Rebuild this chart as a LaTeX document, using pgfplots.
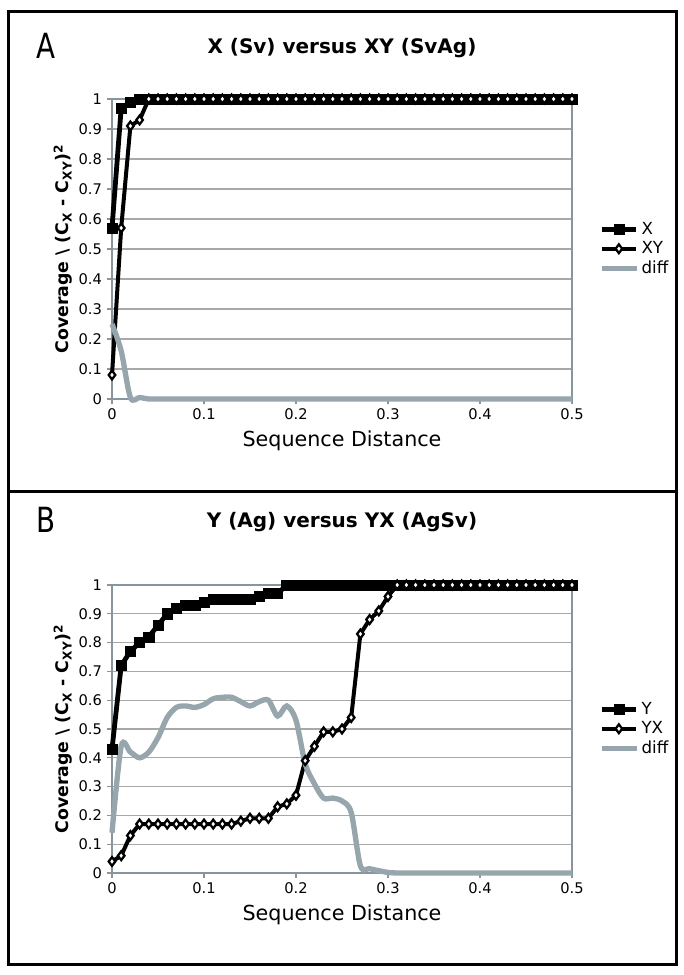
\documentclass[border=0pt]{standalone}
\usepackage{fontspec}
\setmainfont{DejaVu Sans}
\usepackage{graphicx}
\usepackage{pgfplots}
\usepackage{pgfplotstable}
\pgfplotsset{compat=1.18}
\definecolor{diffc}{RGB}{150,166,172}
\definecolor{axc}{RGB}{135,150,156}
\definecolor{gridc}{RGB}{168,168,168}

\pgfplotstableread{
x X XY diff
0.00 0.57 0.08 0.25
0.01 0.97 0.57 0.16
0.02 0.99 0.91 0.005
0.03 1 0.93 0.005
0.04 1 1 0
0.05 1 1 0
0.06 1 1 0
0.07 1 1 0
0.08 1 1 0
0.09 1 1 0
0.10 1 1 0
0.11 1 1 0
0.12 1 1 0
0.13 1 1 0
0.14 1 1 0
0.15 1 1 0
0.16 1 1 0
0.17 1 1 0
0.18 1 1 0
0.19 1 1 0
0.20 1 1 0
0.21 1 1 0
0.22 1 1 0
0.23 1 1 0
0.24 1 1 0
0.25 1 1 0
0.26 1 1 0
0.27 1 1 0
0.28 1 1 0
0.29 1 1 0
0.30 1 1 0
0.31 1 1 0
0.32 1 1 0
0.33 1 1 0
0.34 1 1 0
0.35 1 1 0
0.36 1 1 0
0.37 1 1 0
0.38 1 1 0
0.39 1 1 0
0.40 1 1 0
0.41 1 1 0
0.42 1 1 0
0.43 1 1 0
0.44 1 1 0
0.45 1 1 0
0.46 1 1 0
0.47 1 1 0
0.48 1 1 0
0.49 1 1 0
0.50 1 1 0
}\tableA

\pgfplotstableread{
x Y YX diff
0.00 0.43 0.04 0.14
0.01 0.72 0.06 0.44
0.02 0.77 0.13 0.42
0.03 0.80 0.17 0.40
0.04 0.82 0.17 0.42
0.05 0.86 0.17 0.47
0.06 0.90 0.17 0.54
0.07 0.92 0.17 0.575
0.08 0.93 0.17 0.58
0.09 0.93 0.17 0.575
0.10 0.94 0.17 0.585
0.11 0.95 0.17 0.605
0.12 0.95 0.17 0.61
0.13 0.95 0.17 0.61
0.14 0.95 0.18 0.595
0.15 0.95 0.19 0.58
0.16 0.96 0.19 0.595
0.17 0.97 0.19 0.60
0.18 0.97 0.23 0.545
0.19 1 0.24 0.58
0.20 1 0.27 0.53
0.21 1 0.39 0.38
0.22 1 0.44 0.31
0.23 1 0.49 0.26
0.24 1 0.49 0.26
0.25 1 0.50 0.25
0.26 1 0.54 0.21
0.27 1 0.83 0.025
0.28 1 0.88 0.015
0.29 1 0.91 0.008
0.30 1 0.96 0.002
0.31 1 1 0
0.32 1 1 0
0.33 1 1 0
0.34 1 1 0
0.35 1 1 0
0.36 1 1 0
0.37 1 1 0
0.38 1 1 0
0.39 1 1 0
0.40 1 1 0
0.41 1 1 0
0.42 1 1 0
0.43 1 1 0
0.44 1 1 0
0.45 1 1 0
0.46 1 1 0
0.47 1 1 0
0.48 1 1 0
0.49 1 1 0
0.50 1 1 0
}\tableB

\pgfplotsset{
  excel/.style={
    scale only axis, width=345pt,
    xmin=0, xmax=0.5, ymin=0, ymax=1,
    clip=false,
    xtick={0,0.1,0.2,0.3,0.4,0.5},
    xticklabels={0,0.1,0.2,0.3,0.4,0.5},
    ytick={0,0.1,0.2,0.3,0.4,0.5,0.6,0.7,0.8,0.9,1},
    yticklabels={0,0.1,0.2,0.3,0.4,0.5,0.6,0.7,0.8,0.9,1},
    xtick pos=bottom, ytick pos=left,
    tick align=outside, major tick length=4pt,
    tick style={axc, line width=1pt},
    axis line style={axc, line width=1.4pt},
    ymajorgrids, grid style={gridc, line width=0.8pt},
    ticklabel style={font=\fontsize{11}{13}\selectfont},
    xlabel={Sequence Distance},
    xlabel style={font=\fontsize{15.5}{18}\selectfont, yshift=-1pt},
    ylabel={\bfseries Coverage \textbackslash\ (C\textsubscript{X} - C\textsubscript{XY})\textsuperscript{2}},
    ylabel style={font=\fontsize{13}{15}\selectfont, yshift=-2pt},
    legend style={at={(1.055,0.5)}, anchor=west, draw=none, fill=none,
      font=\fontsize{12.5}{14}\selectfont, row sep=0pt, inner sep=1pt},
    legend cell align=left,
    legend image code/.code={\draw[mark repeat=2,mark phase=2] plot coordinates {(0pt,0pt)(13pt,0pt)(26pt,0pt)};},
  },
  sqline/.style={black, line width=3.6pt, mark=square*, mark size=3.8pt, mark options={solid, fill=black, line width=0.4pt}},
  dmline/.style={black, line width=3pt, mark=diamond*, mark size=3.3pt, mark options={solid, fill=white, draw=black, line width=1.7pt}},
  dfline/.style={diffc, line width=4pt, smooth, tension=0.5},
}

\begin{document}
\begin{tikzpicture}
\useasboundingbox (0,0) rectangle (513pt,731.25pt);
\draw[line width=2.25pt] (6pt,7.5pt) rectangle (507pt,722.25pt);
\draw[line width=2.25pt] (6pt,362.25pt) -- (507pt,362.25pt);
\node[font=\fontsize{26}{28}\selectfont] at (34.5pt,697pt) {\scalebox{0.8}[1]{A}};
\node[font=\bfseries\fontsize{15}{17}\selectfont] at (256.5pt,695.5pt) {X (Sv) versus XY (SvAg)};
\node[font=\fontsize{26}{28}\selectfont] at (34.5pt,341pt) {\scalebox{0.8}[1]{B}};
\node[font=\bfseries\fontsize{15}{17}\selectfont] at (256.5pt,339.75pt) {Y (Ag) versus YX (AgSv)};

\begin{axis}[excel, height=225pt, at={(84pt,432pt)}, anchor=south west]
\addplot[sqline] table[x=x,y=X] {\tableA};
\addlegendentry{X}
\addplot[dmline] table[x=x,y=XY] {\tableA};
\addlegendentry{XY}
\addplot[dfline] table[x=x,y=diff] {\tableA};
\addlegendentry{diff}
\end{axis}

\begin{axis}[excel, height=216pt, at={(84pt,76.5pt)}, anchor=south west]
\addplot[sqline] table[x=x,y=Y] {\tableB};
\addlegendentry{Y}
\addplot[dmline] table[x=x,y=YX] {\tableB};
\addlegendentry{YX}
\addplot[dfline] table[x=x,y=diff] {\tableB};
\addlegendentry{diff}
\end{axis}
\end{tikzpicture}
\end{document}
